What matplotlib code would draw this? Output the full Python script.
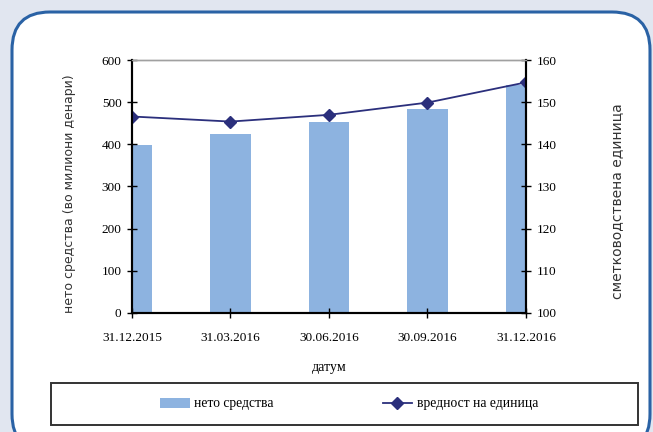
import numpy as np
import matplotlib.pyplot as plt
from matplotlib.patches import FancyBboxPatch, Rectangle

# data
datumi = ['31.12.2015', '31.03.2016', '30.06.2016', '30.09.2016', '31.12.2016']
neto_sredstva = [398, 424, 453, 483, 541]
vrednost_edinica = [146.6, 145.4, 147.0, 149.9, 154.7]

plt.rcParams['font.family'] = ['Liberation Serif', 'DejaVu Serif']
plt.rcParams['font.size'] = 9

fig = plt.figure(figsize=(6.53, 4.32), dpi=100)
fig.patch.set_facecolor('#e1e6f0')

# rounded white frame
frame = FancyBboxPatch((0.12, -0.2), 6.38, 4.4,
                       boxstyle='round,pad=0,rounding_size=0.38',
                       transform=fig.dpi_scale_trans,
                       facecolor='white', edgecolor='#2a62a5', linewidth=2.2,
                       zorder=-1)
fig.patches.append(frame)

ax = fig.add_axes([0.2021, 0.2755, 0.6034, 0.5856])
ax.set_facecolor('none')
x = np.arange(len(datumi))

bars = ax.bar(x, neto_sredstva, width=0.41, color='#8db3e0', label='нето средства')
ax.set_xlim(0, len(datumi) - 1)
ax.set_ylim(0, 600)
ax.set_yticks(range(0, 601, 100))
ax.set_xticks(x)
ax.set_xticklabels(datumi, fontsize=9.5)

ax2 = ax.twinx()
line, = ax2.plot(x, vrednost_edinica, color='#2b2f7c', lw=1.3, marker='D',
                 markersize=6, label='вредност на единица')
ax2.set_ylim(100, 160)
ax2.set_yticks(range(100, 161, 10))

for a in (ax, ax2):
    for s in ('left', 'right', 'bottom'):
        a.spines[s].set_color('black')
        a.spines[s].set_linewidth(1.5)
    a.spines['top'].set_color('#a0a0a0')
    a.spines['top'].set_linewidth(1.0)
    a.tick_params(direction='inout', length=7, width=1, pad=4, labelsize=9.5)
ax.tick_params(axis='x', pad=10)

# axis titles
fig.text(329 / 653, 1 - 367 / 432, 'датум', ha='center', va='center', fontsize=10)
fig.text(70 / 653, 1 - 194 / 432, 'нето средства (во милиони денари)', rotation=90,
         ha='center', va='center', fontsize=9, family='DejaVu Sans', color='#333333')
fig.text(617 / 653, 1 - 201 / 432, 'сметководствена единица', rotation=90,
         ha='center', va='center', fontsize=10, family='DejaVu Sans', color='#333333')

# legend box
fig.patches.append(Rectangle((0.51, 0.07), 5.87, 0.42, transform=fig.dpi_scale_trans,
                             facecolor='white', edgecolor='#333333', linewidth=1.4))
fig.legend([bars, line], ['нето средства', 'вредност на единица'],
           loc='center', bbox_to_anchor=(349 / 653, 1 - 404 / 432), ncol=2,
           frameon=False, handlelength=2.2, handletextpad=0.3, columnspacing=8.0,
           fontsize=9.8)

fig.savefig('out.png', dpi=100, facecolor=fig.get_facecolor())
